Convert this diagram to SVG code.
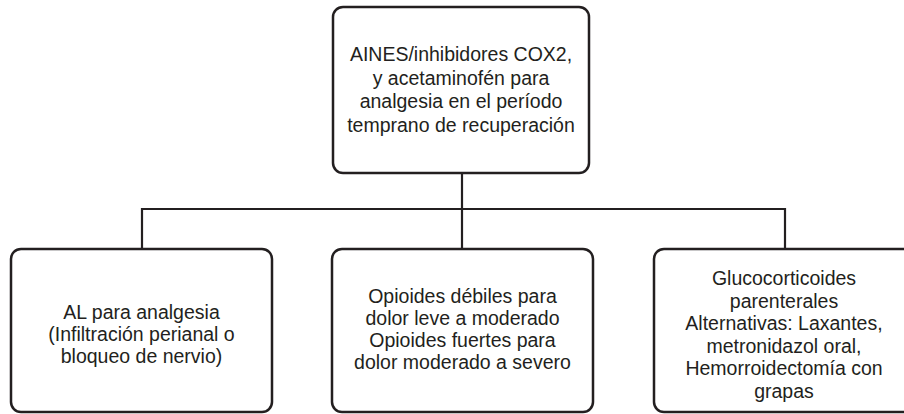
<svg xmlns="http://www.w3.org/2000/svg" width="904" height="414" viewBox="0 0 904 414">
<style>
.box{fill:#fff;stroke:#231f20;stroke-width:2.5}
.t{font-family:"Liberation Sans",Arial,sans-serif;font-size:19.5px;fill:#231f20;text-anchor:middle}
.c{fill:none;stroke:#231f20;stroke-width:2.2}
</style>
<rect width="904" height="414" fill="#fff"/>
<g id="connectors">
<path class="c" d="M462 173V209"/>
<path class="c" d="M142 249V209H785V249"/>
<path class="c" d="M462 209V249"/>
</g>
<g id="top">
<rect class="box" x="333" y="7" width="256" height="166" rx="10"/>
<text class="t" x="461" y="61">AINES/inhibidores COX2,</text>
<text class="t" x="461" y="84.5">y acetaminofén para</text>
<text class="t" x="461" y="108">analgesia en el período</text>
<text class="t" x="461" y="131.5">temprano de recuperación</text>
</g>
<g id="left">
<rect class="box" x="11" y="249" width="261" height="163" rx="10"/>
<text class="t" x="141.5" y="319">AL para analgesia</text>
<text class="t" x="141.5" y="341">(Infiltración perianal o</text>
<text class="t" x="141.5" y="363">bloqueo de nervio)</text>
</g>
<g id="middle">
<rect class="box" x="332" y="249" width="261" height="163" rx="10"/>
<text class="t" x="462.5" y="303">Opioides débiles para</text>
<text class="t" x="462.5" y="325">dolor leve a moderado</text>
<text class="t" x="462.5" y="347">Opioides fuertes para</text>
<text class="t" x="462.5" y="369">dolor moderado a severo</text>
</g>
<g id="right">
<rect class="box" x="654" y="249" width="261" height="163" rx="10"/>
<text class="t" x="784" y="285">Glucocorticoides</text>
<text class="t" x="784" y="307.5">parenterales</text>
<text class="t" x="784" y="330">Alternativas: Laxantes,</text>
<text class="t" x="784" y="352.5">metronidazol oral,</text>
<text class="t" x="784" y="375">Hemorroidectomía con</text>
<text class="t" x="784" y="397.5">grapas</text>
</g>
</svg>
